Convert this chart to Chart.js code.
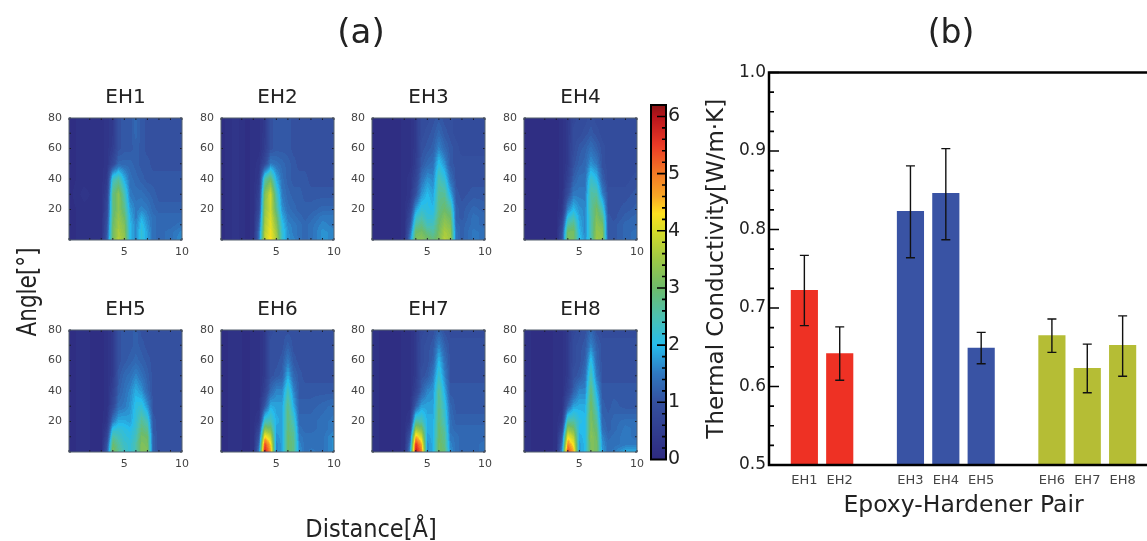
<!DOCTYPE html>
<html>
<head>
<meta charset="utf-8">
<script src="https://cdn.jsdelivr.net/npm/chart.js@4"></script>
<style>
  html, body { margin: 0; padding: 0; background: #fff; }
  #page { position: relative; width: 1147px; height: 541px; overflow: hidden; font-family: "DejaVu Sans", sans-serif; color: #222; filter: blur(0.4px); }
  #page canvas { position: absolute; }
  .lbl { position: absolute; white-space: nowrap; transform: translate(-50%, -50%); }
</style>
</head>
<body>
<div id="page">
  <div class="lbl" style="left:361px;top:31px;font-size:34px">(a)</div>
  <div class="lbl" style="left:951px;top:31px;font-size:33px">(b)</div>
  <div class="lbl" style="left:26px;top:292px;font-size:27px;transform:translate(-50%,-50%) rotate(-90deg) scaleX(0.8)">Angle[°]</div>
  <div class="lbl" style="left:371px;top:528px;font-size:25px;transform:translate(-50%,-50%) scaleX(0.9)">Distance[Å]</div>
</div>
<script>
// heatmap grid, distance across and angle up
const distances = [0.2, 1.5, 2.5, 3, 3.5, 4, 4.5, 5, 5.5, 6, 6.5, 7, 7.5, 8, 9, 10];
const angles = [0, 5, 10, 15, 20, 30, 40, 50, 60, 70, 80];

const panelNames = ['EH1', 'EH2', 'EH3', 'EH4', 'EH5', 'EH6', 'EH7', 'EH8'];

const eh1 = [
  [.1, .2, .2, .2, 1.2, 3.1, 3.7, 3.4, 2.0, 1.6, 2.2, 1.8, 1.4, 1.3, 1.4, 1.7],
  [.1, .2, .2, .2, 1.1, 3.0, 3.6, 3.3, 2.0, 1.6, 2.2, 1.8, 1.4, 1.3, 1.4, 1.6],
  [.1, .2, .2, .2, 1.0, 3.0, 3.5, 3.2, 2.0, 1.6, 2.1, 1.7, 1.4, 1.3, 1.3, 1.4],
  [.1, .2, .2, .2, .9, 2.9, 3.4, 3.0, 1.9, 1.5, 1.9, 1.6, 1.4, 1.3, 1.3, 1.3],
  [.1, .2, .2, .2, .8, 2.8, 3.3, 2.8, 1.8, 1.5, 1.6, 1.5, 1.3, 1.2, 1.2, 1.2],
  [.1, .3, .2, .2, .6, 2.8, 3.3, 2.5, 1.5, 1.4, 1.4, 1.3, 1.2, 1.1, 1.1, 1.1],
  [.1, .2, .2, .2, .4, 2.3, 2.6, 1.9, 1.4, 1.3, 1.2, 1.1, 1.1, 1.1, 1.1, 1.1],
  [.1, .2, .2, .2, .3, .8, 1.3, 1.3, 1.3, 1.2, 1.1, 1.1, 1.0, 1.0, 1.0, 1.0],
  [.1, .2, .2, .2, .3, .5, 1.0, 1.1, 1.1, 1.2, 1.1, 1.0, 1.0, 1.0, 1.0, 1.0],
  [.1, .2, .2, .2, .3, .45, 1.0, 1.1, 1.1, 1.3, 1.1, 1.0, 1.0, 1.0, 1.0, 1.0],
  [.1, .2, .2, .2, .3, .45, 1.0, 1.1, 1.1, 1.3, 1.1, 1.0, 1.0, 1.0, 1.0, 1.0]
];
const eh2 = [
  [.1, .3, .1, .2, 1.5, 3.8, 4.3, 3.6, 2.3, 1.7, 1.6, 1.4, 1.3, 1.4, 1.7, 1.6],
  [.1, .3, .1, .2, 1.4, 3.7, 4.2, 3.5, 2.2, 1.7, 1.5, 1.4, 1.3, 1.4, 1.7, 1.6],
  [.1, .3, .1, .2, 1.2, 3.6, 4.1, 3.3, 2.1, 1.6, 1.5, 1.4, 1.3, 1.4, 1.6, 1.5],
  [.1, .3, .1, .2, 1.0, 3.5, 4.0, 3.1, 1.9, 1.5, 1.4, 1.3, 1.2, 1.3, 1.5, 1.5],
  [.1, .3, .1, .2, .8, 3.4, 3.9, 2.8, 1.7, 1.4, 1.3, 1.2, 1.2, 1.2, 1.3, 1.3],
  [.1, .3, .1, .2, .6, 3.2, 3.9, 2.5, 1.5, 1.3, 1.2, 1.2, 1.1, 1.1, 1.1, 1.1],
  [.1, .3, .1, .2, .4, 2.5, 3.0, 1.9, 1.4, 1.2, 1.1, 1.1, 1.1, 1.0, 1.0, 1.0],
  [.1, .3, .1, .2, .3, .8, 1.5, 1.4, 1.3, 1.2, 1.1, 1.0, 1.0, 1.0, 1.0, 1.0],
  [.1, .3, .1, .2, .2, .5, 1.0, 1.1, 1.1, 1.1, 1.0, 1.0, 1.0, 1.0, 1.0, 1.0],
  [.1, .3, .1, .2, .2, .45, 1.0, 1.1, 1.1, 1.1, 1.0, 1.0, 1.0, 1.0, 1.0, 1.0],
  [.1, .3, .1, .2, .2, .45, 1.0, 1.1, 1.1, 1.1, 1.0, 1.0, 1.0, 1.0, 1.0, 1.0]
];
const eh3 = [
  [.1, .1, .1, .2, 1.6, 3.2, 3.3, 3.1, 2.9, 3.2, 3.7, 3.5, 1.4, 1.2, 1.5, 1.4],
  [.1, .1, .1, .2, 1.3, 3.0, 3.1, 2.8, 2.6, 3.1, 3.6, 3.4, 1.4, 1.2, 1.5, 1.4],
  [.1, .1, .1, .2, 1.0, 2.6, 2.8, 2.4, 2.4, 3.0, 3.4, 3.2, 1.3, 1.2, 1.4, 1.3],
  [.1, .1, .1, .2, .8, 2.2, 2.5, 2.2, 2.2, 2.9, 3.2, 3.0, 1.2, 1.1, 1.4, 1.3],
  [.1, .1, .1, .2, .6, 1.8, 2.2, 2.1, 2.0, 2.8, 3.0, 2.7, 1.2, 1.1, 1.3, 1.2],
  [.1, .1, .1, .2, .3, 1.0, 1.7, 2.0, 1.8, 2.7, 2.7, 1.9, 1.1, 1.0, 1.1, 1.1],
  [.1, .1, .1, .2, .3, .7, 1.4, 1.7, 1.6, 2.5, 2.2, 1.4, 1.0, 1.0, 1.0, 1.0],
  [.1, .1, .1, .2, .2, .5, 1.1, 1.3, 1.4, 2.1, 1.7, 1.1, 1.0, 1.0, 1.0, 1.0],
  [.1, .1, .1, .2, .2, .45, 1.0, 1.1, 1.2, 1.6, 1.3, 1.1, 1.0, .9, .9, .9],
  [.1, .1, .1, .2, .2, .45, .9, 1.0, 1.1, 1.3, 1.1, 1.0, .9, .9, .9, .9],
  [.1, .1, .1, .2, .2, .45, .9, .9, 1.0, 1.1, 1.0, 1.0, .9, .9, .9, .9]
];
const eh4 = [
  [.1, .1, .1, .1, 1.0, 3.2, 3.1, 2.1, 1.7, 2.4, 3.5, 3.4, 1.1, 1.1, 1.3, 1.4],
  [.1, .1, .1, .1, .9, 3.1, 3.1, 2.0, 1.6, 2.5, 3.4, 3.3, 1.1, 1.1, 1.3, 1.4],
  [.1, .1, .1, .1, .7, 2.6, 2.8, 1.9, 1.6, 2.5, 3.3, 3.1, 1.1, 1.1, 1.3, 1.3],
  [.1, .1, .1, .1, .5, 2.1, 2.4, 1.8, 1.6, 2.5, 3.2, 2.8, 1.1, 1.0, 1.2, 1.3],
  [.1, .1, .1, .1, .3, 1.6, 2.0, 1.7, 1.6, 2.6, 3.1, 2.4, 1.0, 1.0, 1.1, 1.2],
  [.1, .1, .1, .1, .2, .9, 1.5, 1.5, 1.5, 2.6, 2.6, 1.6, 1.0, 1.0, 1.0, 1.1],
  [.1, .1, .1, .1, .2, .6, 1.2, 1.4, 1.4, 2.3, 2.0, 1.2, .9, .9, .9, 1.0],
  [.1, .1, .1, .1, .2, .45, 1.0, 1.2, 1.3, 1.7, 1.5, 1.0, .9, .9, .9, .9],
  [.1, .1, .1, .1, .2, .45, .9, 1.1, 1.2, 1.4, 1.2, 1.0, .9, .9, .9, .9],
  [.1, .1, .1, .1, .2, .4, .9, .9, 1.0, 1.1, 1.0, .9, .9, .9, .9, .9],
  [.1, .1, .1, .1, .2, .4, .8, .9, .9, 1.0, .9, .9, .9, .9, .9, .9]
];
const eh5 = [
  [.1, .2, .1, .1, 1.2, 3.2, 2.7, 2.4, 2.2, 2.5, 3.2, 3.2, 1.2, 1.0, 1.0, 1.0],
  [.1, .2, .1, .1, 1.0, 3.0, 2.6, 2.3, 2.2, 2.5, 3.2, 3.1, 1.2, 1.0, 1.0, 1.0],
  [.1, .2, .1, .1, .7, 2.6, 2.4, 2.2, 2.1, 2.4, 3.1, 3.0, 1.2, 1.0, 1.0, 1.0],
  [.1, .2, .1, .1, .5, 2.1, 2.2, 2.1, 2.0, 2.3, 2.9, 2.7, 1.1, 1.0, 1.0, 1.0],
  [.1, .2, .1, .1, .3, 1.5, 1.9, 1.9, 1.8, 2.2, 2.7, 2.4, 1.1, 1.0, 1.0, 1.0],
  [.1, .2, .1, .1, .2, .8, 1.4, 1.5, 1.7, 2.1, 2.2, 1.7, 1.0, 1.0, 1.0, 1.0],
  [.1, .2, .1, .1, .2, .6, 1.2, 1.4, 1.6, 1.9, 1.7, 1.3, 1.0, 1.0, 1.0, 1.0],
  [.1, .2, .1, .1, .2, .45, 1.1, 1.3, 1.4, 1.6, 1.4, 1.2, 1.0, 1.0, 1.0, 1.0],
  [.1, .2, .1, .1, .2, .45, 1.0, 1.1, 1.2, 1.3, 1.2, 1.1, 1.0, 1.0, 1.0, 1.0],
  [.1, .2, .1, .1, .2, .45, 1.0, 1.1, 1.1, 1.2, 1.1, 1.0, 1.0, 1.0, 1.0, 1.0],
  [.1, .2, .1, .1, .2, .45, 1.0, 1.1, 1.1, 1.2, 1.0, 1.0, 1.0, 1.0, 1.0, 1.0]
];
const eh6 = [
  [.1, .2, .1, .2, 1.6, 5.9, 4.7, 1.6, 1.8, 3.0, 2.8, 1.7, 1.4, 1.5, 1.4, 1.7],
  [.1, .2, .1, .2, 1.3, 5.4, 4.4, 1.6, 1.8, 3.0, 2.8, 1.6, 1.4, 1.4, 1.4, 1.7],
  [.1, .2, .1, .2, 1.0, 4.4, 3.8, 1.7, 1.8, 3.0, 2.7, 1.5, 1.4, 1.4, 1.4, 1.7],
  [.1, .2, .1, .2, .7, 3.3, 3.1, 1.8, 1.8, 2.9, 2.6, 1.4, 1.3, 1.3, 1.4, 1.5],
  [.1, .2, .1, .2, .4, 2.4, 2.5, 1.9, 1.8, 2.9, 2.4, 1.3, 1.3, 1.3, 1.4, 1.5],
  [.1, .2, .1, .2, .2, 1.1, 1.9, 1.8, 1.8, 2.8, 1.9, 1.2, 1.2, 1.2, 1.3, 1.4],
  [.1, .2, .1, .2, .2, .6, 1.3, 1.6, 1.6, 2.4, 1.6, 1.1, 1.1, 1.1, 1.1, 1.1],
  [.1, .2, .1, .2, .2, .45, 1.0, 1.1, 1.2, 1.9, 1.3, 1.1, 1.0, 1.0, 1.0, 1.0],
  [.1, .2, .1, .2, .2, .45, 1.0, 1.0, 1.1, 1.5, 1.1, 1.0, 1.0, 1.0, 1.0, 1.0],
  [.1, .2, .1, .2, .2, .45, 1.0, 1.0, 1.0, 1.2, 1.0, 1.0, 1.0, 1.0, 1.0, 1.0],
  [.1, .2, .1, .2, .2, .45, .9, 1.0, 1.0, 1.0, 1.0, 1.0, 1.0, 1.0, 1.0, 1.0]
];
const eh7 = [
  [.2, .1, .1, .2, 1.7, 6.0, 5.0, 1.7, 1.9, 3.1, 2.9, 1.7, 1.4, 1.3, 1.3, 1.4],
  [.2, .1, .1, .2, 1.4, 5.6, 4.6, 1.7, 1.9, 3.1, 2.8, 1.6, 1.4, 1.3, 1.3, 1.4],
  [.2, .1, .1, .2, 1.1, 4.6, 3.9, 1.8, 1.9, 3.0, 2.7, 1.5, 1.4, 1.3, 1.3, 1.3],
  [.2, .1, .1, .2, .7, 3.5, 3.2, 1.9, 1.9, 3.0, 2.6, 1.4, 1.3, 1.3, 1.3, 1.3],
  [.2, .1, .1, .2, .4, 2.6, 2.5, 1.9, 1.9, 2.9, 2.4, 1.4, 1.2, 1.2, 1.2, 1.2],
  [.2, .1, .1, .2, .2, 1.2, 1.8, 1.8, 1.8, 2.8, 2.2, 1.3, 1.1, 1.1, 1.1, 1.1],
  [.2, .1, .1, .2, .2, .6, 1.2, 1.6, 1.7, 2.7, 1.9, 1.1, 1.1, 1.1, 1.1, 1.1],
  [.2, .1, .1, .2, .2, .45, 1.0, 1.1, 1.5, 2.3, 1.6, 1.0, 1.0, 1.0, 1.0, 1.0],
  [.2, .1, .1, .2, .2, .45, .9, 1.0, 1.2, 2.0, 1.4, 1.0, 1.0, 1.0, 1.0, 1.0],
  [.2, .1, .1, .2, .2, .45, .9, 1.0, 1.1, 1.6, 1.2, 1.0, 1.0, 1.0, 1.0, 1.0],
  [.2, .1, .1, .2, .2, .45, .8, .9, 1.0, 1.2, 1.0, .9, .9, .9, .9, .9]
];
const eh8 = [
  [.2, .1, .1, .2, 1.7, 5.5, 4.6, 1.8, 2.0, 3.2, 3.1, 1.8, 1.4, 1.5, 1.9, 1.9],
  [.2, .1, .1, .2, 1.4, 4.9, 4.2, 1.8, 2.0, 3.2, 3.1, 1.7, 1.4, 1.4, 1.5, 1.5],
  [.2, .1, .1, .2, 1.1, 4.2, 3.7, 1.9, 2.0, 3.3, 3.0, 1.6, 1.3, 1.4, 1.5, 1.4],
  [.2, .1, .1, .2, .7, 3.4, 3.1, 2.0, 2.0, 3.2, 2.9, 1.4, 1.2, 1.3, 1.5, 1.4],
  [.2, .1, .1, .2, .4, 2.6, 2.6, 2.1, 2.0, 3.2, 2.7, 1.3, 1.2, 1.3, 1.4, 1.4],
  [.2, .1, .1, .2, .2, 1.2, 1.8, 1.9, 1.9, 3.1, 2.3, 1.2, 1.1, 1.2, 1.1, 1.1],
  [.2, .1, .1, .2, .2, .6, 1.2, 1.6, 1.6, 2.9, 1.9, 1.1, 1.1, 1.1, 1.1, 1.1],
  [.2, .1, .1, .2, .2, .45, 1.0, 1.1, 1.4, 2.5, 1.5, 1.0, 1.0, 1.0, 1.0, 1.0],
  [.2, .1, .1, .2, .2, .45, .9, 1.0, 1.2, 2.1, 1.3, 1.0, 1.0, 1.0, 1.0, 1.0],
  [.2, .1, .1, .2, .2, .45, .9, 1.0, 1.1, 1.6, 1.2, 1.0, 1.0, 1.0, 1.0, 1.0],
  [.2, .1, .1, .2, .2, .45, .8, .9, 1.0, 1.3, 1.0, .9, .9, .9, .9, .9]
];
const panelGrids = [eh1, eh2, eh3, eh4, eh5, eh6, eh7, eh8];

// colour bar stops
const colorLevels = [0, 1, 1.5, 2, 2.5, 3, 3.5, 4, 4.3, 4.6, 5, 5.5, 6, 6.2];
const colorStops = ['#2e2a80', '#34509f', '#2f78c0', '#26bcec', '#4cc0b0', '#6dbb6a', '#9ec845', '#d8dc28',
  '#fde020', '#f9a825', '#f47a25', '#ea3a26', '#b8141c', '#8a1414'];

// bar chart (b), blank categories make the gaps between groups
const barCategories = ['', 'EH1', 'EH2', '', 'EH3', 'EH4', 'EH5', '', 'EH6', 'EH7', 'EH8', ''];
const conductivity = [null, 0.7225, 0.642, null, 0.823, 0.846, 0.649, null, 0.665, 0.623, 0.6525, null];
const errorHigh = [null, 0.767, 0.676, null, 0.881, 0.903, 0.669, null, 0.686, 0.654, 0.690, null];
const errorLow = [null, 0.6775, 0.608, null, 0.764, 0.787, 0.629, null, 0.6435, 0.592, 0.613, null];
const barColors = [null, '#ee3124', '#ee3124', null, '#3953a4', '#3953a4', '#3953a4', null, '#b5bd35', '#b5bd35', '#b5bd35', null];

const FONT = '"DejaVu Sans", sans-serif';
Chart.defaults.font.family = FONT;
Chart.defaults.animation = false;

function parseHex(c) {
    return [parseInt(c.slice(1, 3), 16), parseInt(c.slice(3, 5), 16), parseInt(c.slice(5, 7), 16)];
}
const stopsRgb = colorStops.map(parseHex);

function colorFor(v) {
    if (v <= colorLevels[0]) return stopsRgb[0];
    for (let i = 1; i < colorLevels.length; i++) {
        if (v <= colorLevels[i]) {
            const t = (v - colorLevels[i - 1]) / (colorLevels[i] - colorLevels[i - 1]);
            const a = stopsRgb[i - 1], b = stopsRgb[i];
            return [a[0] + (b[0] - a[0]) * t, a[1] + (b[1] - a[1]) * t, a[2] + (b[2] - a[2]) * t];
        }
    }
    return stopsRgb[stopsRgb.length - 1];
}

function findCell(list, v) {
    let i = 0;
    while (i < list.length - 2 && v > list[i + 1]) i++;
    const t = Math.max(0, Math.min(1, (v - list[i]) / (list[i + 1] - list[i])));
    return [i, t];
}

// paints the cells of dataset 0 into the plot area through the chart's scales
const heatPlugin = {
    id: 'heat',
    beforeDatasetsDraw(chart) {
        const area = chart.chartArea;
        const w = Math.round(area.right - area.left), h = Math.round(area.bottom - area.top);
        const off = document.createElement('canvas');
        off.width = w;
        off.height = h;
        const octx = off.getContext('2d');
        const img = octx.createImageData(w, h);
        const cells = chart.data.datasets[0].data;
        const nx = distances.length;
        for (let py = 0; py < h; py++) {
            const [j, ty] = findCell(angles, chart.scales.y.getValueForPixel(area.top + py + 0.5));
            for (let px = 0; px < w; px++) {
                const [i, tx] = findCell(distances, chart.scales.x.getValueForPixel(area.left + px + 0.5));
                const v00 = cells[j * nx + i].v, v10 = cells[j * nx + i + 1].v;
                const v01 = cells[(j + 1) * nx + i].v, v11 = cells[(j + 1) * nx + i + 1].v;
                const v = (v00 * (1 - tx) + v10 * tx) * (1 - ty) + (v01 * (1 - tx) + v11 * tx) * ty;
                const c = colorFor(Math.round(v / 0.1) * 0.1);
                const k = (py * w + px) * 4;
                img.data[k] = c[0];
                img.data[k + 1] = c[1];
                img.data[k + 2] = c[2];
                img.data[k + 3] = 255;
            }
        }
        octx.putImageData(img, 0, 0);
        chart.ctx.drawImage(off, area.left, area.top, area.right - area.left, area.bottom - area.top);
    }
};

// small inward ticks and the grey frame of a heatmap
const panelFramePlugin = {
    id: 'panelFrame',
    afterDatasetsDraw(chart) {
        const { ctx, chartArea: a, scales } = chart;
        ctx.save();
        ctx.strokeStyle = '#1a1a2a';
        ctx.lineWidth = 1;
        ctx.beginPath();
        scales.x.ticks.forEach(t => {
            const x = scales.x.getPixelForValue(t.value);
            ctx.moveTo(x, a.bottom); ctx.lineTo(x, a.bottom - 2);
            ctx.moveTo(x, a.top); ctx.lineTo(x, a.top + 2);
        });
        scales.y.ticks.forEach(t => {
            const y = scales.y.getPixelForValue(t.value);
            ctx.moveTo(a.left, y); ctx.lineTo(a.left + 2, y);
            ctx.moveTo(a.right, y); ctx.lineTo(a.right - 2, y);
        });
        ctx.stroke();
        ctx.strokeStyle = '#55606e';
        ctx.strokeRect(a.left, a.top, a.right - a.left, a.bottom - a.top);
        ctx.restore();
    }
};

function makeCanvas(left, top, width, height) {
    const canvas = document.createElement('canvas');
    canvas.width = width;
    canvas.height = height;
    canvas.style.left = left + 'px';
    canvas.style.top = top + 'px';
    canvas.style.width = width + 'px';
    canvas.style.height = height + 'px';
    document.getElementById('page').appendChild(canvas);
    return canvas;
}

function drawPanel(index, plotLeft, plotTop) {
    const cells = [];
    angles.forEach((a, j) => {
        distances.forEach((d, i) => cells.push({ x: d, y: a, v: panelGrids[index][j][i] }));
    });
    new Chart(makeCanvas(plotLeft - 30, plotTop - 32, 156, 176), {
        type: 'scatter',
        data: { datasets: [{ label: panelNames[index], data: cells, pointRadius: 0, pointHitRadius: 0 }] },
        options: {
            responsive: false,
            layout: { padding: { right: 12 } },
            plugins: {
                legend: { display: false },
                tooltip: { enabled: false },
                title: {
                    display: true,
                    text: panelNames[index],
                    fullSize: false,
                    color: '#222',
                    font: { size: 20, weight: 'normal' },
                    padding: { top: 0, bottom: 8 }
                }
            },
            scales: {
                x: {
                    type: 'linear',
                    min: 0.2,
                    max: 10,
                    grid: { display: false, drawTicks: false },
                    border: { display: false },
                    afterFit: s => { s.height = 22; },
                    ticks: {
                        stepSize: 1,
                        autoSkip: false,
                        maxRotation: 0,
                        padding: 6,
                        color: '#444',
                        font: { size: 11 },
                        callback: v => (v === 5 || v === 10) ? String(v) : ''
                    }
                },
                y: {
                    min: 0,
                    max: 80,
                    grid: { display: false, drawTicks: false },
                    border: { display: false },
                    afterFit: s => { s.width = 30; },
                    ticks: {
                        stepSize: 10,
                        autoSkip: false,
                        padding: 7,
                        color: '#444',
                        font: { size: 11 },
                        callback: v => (v > 0 && v % 20 === 0) ? String(v) : ''
                    }
                }
            }
        },
        plugins: [heatPlugin, panelFramePlugin]
    });
}

const panelLefts = [69, 221, 372, 524];
const panelTops = [118, 330];
panelNames.forEach((name, i) => drawPanel(i, panelLefts[i % 4], panelTops[Math.floor(i / 4)]));

// colour bar, one row of colour per pixel of its value scale
const colorbarPlugin = {
    id: 'colorbarFill',
    beforeDatasetsDraw(chart) {
        const { ctx, chartArea: a, scales } = chart;
        for (let py = Math.floor(a.top); py < a.bottom; py++) {
            const c = colorFor(scales.y.getValueForPixel(py + 0.5));
            ctx.fillStyle = 'rgb(' + c.map(Math.round).join(',') + ')';
            ctx.fillRect(a.left, py, a.right - a.left, 1);
        }
    },
    afterDatasetsDraw(chart) {
        const { ctx, chartArea: a, scales } = chart;
        ctx.save();
        ctx.strokeStyle = '#000';
        ctx.lineWidth = 1.6;
        ctx.beginPath();
        scales.y.ticks.forEach(t => {
            if (t.value > 6.1 || t.value < 0.1) return;
            const y = scales.y.getPixelForValue(t.value);
            const major = Math.abs(t.value - Math.round(t.value)) < 0.01;
            ctx.moveTo(a.right, y);
            ctx.lineTo(a.right - (major ? 9 : 4), y);
        });
        ctx.stroke();
        ctx.lineWidth = 2;
        ctx.strokeRect(a.left, a.top, a.right - a.left, a.bottom - a.top);
        ctx.restore();
    }
};

new Chart(makeCanvas(640, 75, 50, 405), {
    type: 'scatter',
    data: { datasets: [{ data: colorLevels.map(v => ({ x: 0, y: v })), pointRadius: 0 }] },
    options: {
        responsive: false,
        layout: { padding: { left: 11, top: 30, bottom: 20.5 } },
        plugins: { legend: { display: false }, tooltip: { enabled: false } },
        scales: {
            x: { display: false },
            y: {
                position: 'right',
                min: 0,
                max: 6.2,
                grid: { display: false, drawTicks: false },
                border: { display: false },
                afterFit: s => { s.width = 24; },
                ticks: {
                    stepSize: 0.2,
                    autoSkip: false,
                    padding: 2,
                    color: '#222',
                    font: { size: 19 },
                    callback: v => Math.abs(v - Math.round(v)) < 0.01 ? String(Math.round(v)) : ''
                }
            }
        }
    },
    plugins: [colorbarPlugin]
});

// error bars and heavy frame for chart (b)
const barExtrasPlugin = {
    id: 'barExtras',
    afterDatasetsDraw(chart) {
        const { ctx, chartArea: a, scales } = chart;
        ctx.save();
        ctx.strokeStyle = '#111';
        ctx.lineWidth = 1.4;
        ctx.beginPath();
        barCategories.forEach((cat, i) => {
            if (errorHigh[i] === null) return;
            const x = scales.x.getPixelForValue(i);
            const hi = scales.y.getPixelForValue(errorHigh[i]);
            const lo = scales.y.getPixelForValue(errorLow[i]);
            ctx.moveTo(x, hi); ctx.lineTo(x, lo);
            ctx.moveTo(x - 4.5, hi); ctx.lineTo(x + 4.5, hi);
            ctx.moveTo(x - 4.5, lo); ctx.lineTo(x + 4.5, lo);
        });
        ctx.stroke();

        ctx.strokeStyle = '#000';
        ctx.lineWidth = 1.6;
        ctx.beginPath();
        scales.y.ticks.forEach(t => {
            const y = scales.y.getPixelForValue(t.value);
            const major = Math.round(t.value * 1000) % 100 === 0;
            ctx.moveTo(a.left, y);
            ctx.lineTo(a.left + (major ? 10 : 5), y);
        });
        ctx.stroke();
        ctx.lineWidth = 2.5;
        ctx.strokeRect(a.left, a.top, a.right - a.left, a.bottom - a.top);
        ctx.restore();
    }
};

new Chart(makeCanvas(703, 40, 465, 480), {
    type: 'bar',
    data: {
        labels: barCategories,
        datasets: [{ label: 'Thermal Conductivity', data: conductivity, backgroundColor: barColors, barThickness: 26.5 }]
    },
    options: {
        responsive: false,
        layout: { padding: { top: 32.5, right: 10 } },
        plugins: { legend: { display: false }, tooltip: { enabled: false } },
        scales: {
            x: {
                offset: false,
                grid: { display: false, drawTicks: false },
                border: { display: false },
                afterFit: s => { s.height = 55; },
                title: {
                    display: true,
                    text: 'Epoxy-Hardener Pair',
                    color: '#222',
                    font: { size: 23.5 },
                    padding: 0
                },
                ticks: { autoSkip: false, maxRotation: 0, padding: 8, color: '#444', font: { size: 13 } }
            },
            y: {
                min: 0.5,
                max: 1,
                grid: { display: false, drawTicks: false },
                border: { display: false },
                afterFit: s => { s.width = 66; },
                title: {
                    display: true,
                    text: 'Thermal Conductivity[W/m·K]',
                    color: '#222',
                    font: { size: 23 },
                    padding: 0
                },
                ticks: {
                    stepSize: 0.025,
                    autoSkip: false,
                    padding: 3,
                    color: '#222',
                    font: { size: 17 },
                    callback: v => Math.round(v * 1000) % 100 === 0 ? v.toFixed(1) : ''
                }
            }
        }
    },
    plugins: [barExtrasPlugin]
});
</script>
</body>
</html>
